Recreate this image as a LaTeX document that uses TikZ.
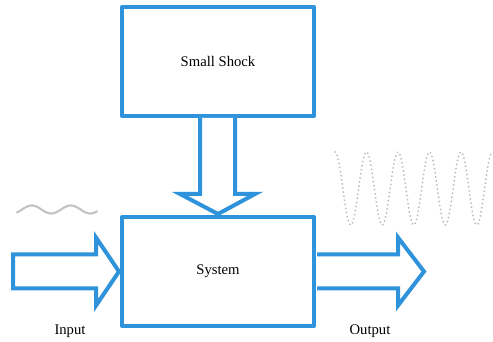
\documentclass[tikz,border=0pt]{standalone}
\usepackage{fontspec}
\setmainfont{Liberation Serif}
\usetikzlibrary{calc}
\definecolor{boxblue}{RGB}{47,147,219}
\definecolor{wavegray}{RGB}{195,195,195}
\definecolor{dotgray}{RGB}{185,185,185}
\tikzset{
  blockbox/.style={draw=boxblue, line width=3pt, line join=round, fill=white,
    minimum width=144pt, minimum height=81.75pt, inner sep=0pt, font=\fontsize{11}{13}\selectfont},
  blockarrow/.style={draw=boxblue, line width=3pt, line join=miter, fill=white},
  caption/.style={font=\fontsize{11}{13}\selectfont, inner sep=0pt},
  wave/.style={wavegray, line width=1.6pt, line cap=round},
  dotwave/.style={dotgray, line width=1.4pt, dash pattern=on 0.1pt off 3pt, line cap=round}
}
\begin{document}
\begin{tikzpicture}[x=0.75pt, y=-0.75pt]
  \useasboundingbox (0,0) rectangle (493,342);

  % blocks
  \node[blockbox] (shock)  at (218,61.5)  {Small Shock};
  \node[blockbox] (system) at (218,271.5) {System};

  % shock enters the system from above
  \draw[blockarrow]
    ($(shock.south)+(-18,0)$) -- ($(shock.south)+(-18,76)$) -- ($(shock.south)+(-38,76)$)
    -- ($(system.north)+(0,-1)$)
    -- ($(shock.south)+(37,76)$) -- ($(shock.south)+(17,76)$) -- ($(shock.south)+(17,0)$);

  % input arrow
  \coordinate (inStart) at (13,271.5);
  \draw[blockarrow]
    ($(inStart)+(0,-17)$) -- ($(system.west)+(-24,-17)$) -- ($(system.west)+(-24,-34)$)
    -- ($(system.west)+(-1,0)$)
    -- ($(system.west)+(-24,34)$) -- ($(system.west)+(-24,17)$) -- ($(inStart)+(0,17)$) -- cycle;

  % output arrow
  \coordinate (outTip) at (424,271.5);
  \draw[blockarrow]
    ($(system.east)+(1,-17)$) -- ($(outTip)+(-26,-17)$) -- ($(outTip)+(-26,-34)$)
    -- (outTip)
    -- ($(outTip)+(-26,34)$) -- ($(outTip)+(-26,17)$) -- ($(system.east)+(1,17)$);

  % small input oscillation
  \draw[wave] plot[domain=17:97, samples=80, smooth] (\x,{209.5-4*sin((\x-22)/39*360)});

  % large dotted output oscillation
  \draw[dotwave] plot[domain=335:493, samples=200, smooth] (\x,{188.5-36.5*cos((\x-335)/31.5*360)});

  % labels
  \node[caption] (inLabel)  at (70,331)  {Input};
  \node[caption] (outLabel) at (370,331) {Output};
\end{tikzpicture}
\end{document}
